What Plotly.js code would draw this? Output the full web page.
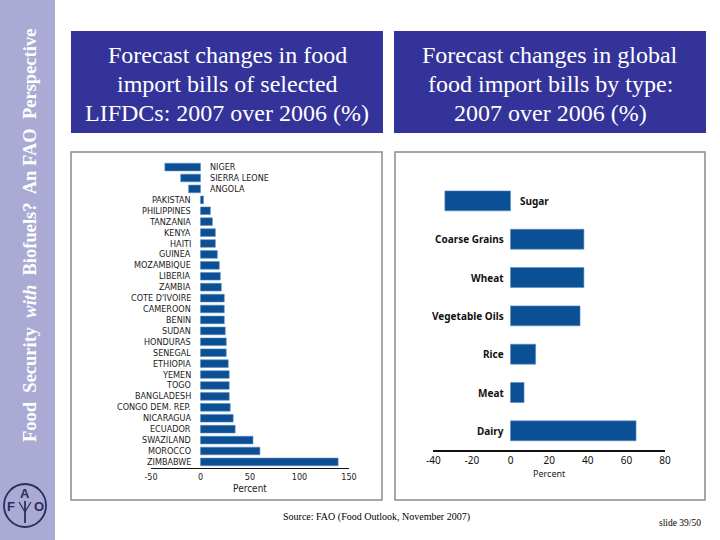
<!DOCTYPE html>
<html>
<head>
<meta charset="utf-8">
<script src="https://cdn.plot.ly/plotly-3.0.1.min.js"></script>
<style>
html,body{margin:0;padding:0;background:#fff;}
#chart{width:720px;height:540px;}
</style>
</head>
<body>
<div id="chart"></div>
<script>
// ---- Data ----
const countries = ["NIGER","SIERRA LEONE","ANGOLA","PAKISTAN","PHILIPPINES","TANZANIA","KENYA","HAITI","GUINEA","MOZAMBIQUE","LIBERIA","ZAMBIA","COTE D'IVOIRE","CAMEROON","BENIN","SUDAN","HONDURAS","SENEGAL","ETHIOPIA","YEMEN","TOGO","BANGLADESH","CONGO DEM. REP.","NICARAGUA","ECUADOR","SWAZILAND","MOROCCO","ZIMBABWE"];
const countryChange = [-36,-20,-12,3,10,12,15,15,17,19,20,21,24,24,24,25,26,26,28,29,29,29,30,33,35,53,60,139];

const foodTypes = ["Sugar","Coarse Grains","Wheat","Vegetable Oils","Rice","Meat","Dairy"];
const typeChange = [-34,38,38,36,13,7,65];

const leftTicks = [-50,0,50,100,150];
const rightTicks = [-40,-20,0,20,40,60,80];

const leftTitleLines = ["Forecast changes in food","import bills of selected","LIFDCs: 2007 over 2006 (%)"];
const rightTitleLines = ["Forecast changes in global","food import bills by type:","2007 over 2006 (%)"];
const sideText = "<b>Food&nbsp; Security&nbsp; <i>with</i>&nbsp; Biofuels?&nbsp; An&nbsp;FAO&nbsp; Perspective</b>";
const sourceText = "Source: FAO (Food Outlook, November 2007)";
const slideText = "slide 39/50";

// ---- helpers ----
const W = 720, H = 540;
const px = v => v / W;
const py = v => 1 - v / H;

const barColor = "#0b5095";
const narrow = "Liberation Sans Narrow, DejaVu Sans Condensed, Arial Narrow, sans-serif";
const segoe = "Noto Sans, Open Sans, sans-serif";
const serif = "Liberation Serif, Times New Roman, serif";

const traces = [
  {type:"bar", orientation:"h", x: countryChange, y: countries, xaxis:"x", yaxis:"y",
   marker:{color:barColor, line:{color:"#5b8cc4", width:0.6}}, width:0.7, hoverinfo:"x+y"},
  {type:"bar", orientation:"h", x: typeChange, y: foodTypes, xaxis:"x2", yaxis:"y2",
   marker:{color:barColor, line:{color:"#5b8cc4", width:0.6}}, width:0.52, hoverinfo:"x+y"}
];

const annotations = [];
countries.forEach((c,i)=>{
  const neg = countryChange[i] < 0;
  annotations.push({xref:"x", yref:"y", x:0, y:c, text:c, showarrow:false,
    xanchor: neg ? "left" : "right", xshift: neg ? 7 : -8, yanchor:"middle",
    font:{family:narrow, size:9, color:"#1a1a1a"}});
});
foodTypes.forEach((c,i)=>{
  const neg = typeChange[i] < 0;
  annotations.push({xref:"x2", yref:"y2", x:0, y:c, text:"<b>"+c+"</b>", showarrow:false,
    xanchor: neg ? "left" : "right", xshift: neg ? 7 : -5, yanchor:"middle",
    font:{family:segoe, size:10, color:"#111"}});
});
// titles, one annotation per line
const titleY = [55, 84, 113];
leftTitleLines.forEach((t,i)=>annotations.push({xref:"paper", yref:"paper", x:px(227), y:py(titleY[i]), text:t,
  showarrow:false, xanchor:"center", yanchor:"middle", font:{family:serif, size:24, color:"#fff"}}));
rightTitleLines.forEach((t,i)=>annotations.push({xref:"paper", yref:"paper", x:px(550), y:py(titleY[i]), text:t,
  showarrow:false, xanchor:"center", yanchor:"middle", font:{family:serif, size:24, color:"#fff"}}));
// side text
annotations.push({xref:"paper", yref:"paper", x:px(30), y:py(236), text:sideText, showarrow:false,
  textangle:-90, xanchor:"center", yanchor:"middle", font:{family:serif, size:18.5, color:"#fff"}});
// source & slide
annotations.push({xref:"paper", yref:"paper", x:px(376), y:py(517), text:sourceText, showarrow:false,
  xanchor:"center", yanchor:"middle", font:{family:serif, size:10, color:"#000"}});
annotations.push({xref:"paper", yref:"paper", x:px(680), y:py(523), text:slideText, showarrow:false,
  xanchor:"center", yanchor:"middle", font:{family:serif, size:9.5, color:"#000"}});
// logo letters
const logoC = "#2d2d5c";
const logoFont = {family:"Liberation Sans, sans-serif", size:13, color:logoC};
[["F",11,506],["A",25,493],["O",39,506]].forEach(([t,x,y])=>annotations.push({xref:"paper", yref:"paper",
  x:px(x), y:py(y), text:"<b>"+t+"</b>", showarrow:false, xanchor:"center", yanchor:"middle", font:logoFont}));

const shapes = [
  // sidebar
  {type:"rect", xref:"paper", yref:"paper", x0:0, x1:px(55), y0:0, y1:1, fillcolor:"#aaaad4", line:{width:0}, layer:"below"},
  // title boxes
  {type:"rect", xref:"paper", yref:"paper", x0:px(71), x1:px(383), y0:py(133), y1:py(31), fillcolor:"#333399", line:{width:0}, layer:"below"},
  {type:"rect", xref:"paper", yref:"paper", x0:px(394), x1:px(706), y0:py(133), y1:py(31), fillcolor:"#333399", line:{width:0}, layer:"below"},
  // chart frames
  {type:"rect", xref:"paper", yref:"paper", x0:px(71), x1:px(382), y0:py(500), y1:py(152), fillcolor:"#fff", line:{color:"#8a8a8a", width:1.5}, layer:"below"},
  {type:"rect", xref:"paper", yref:"paper", x0:px(395), x1:px(705), y0:py(500), y1:py(152), fillcolor:"#fff", line:{color:"#8a8a8a", width:1.5}, layer:"below"},
  // logo
  {type:"circle", xref:"paper", yref:"paper", x0:px(4), x1:px(46), y0:py(527), y1:py(484), line:{color:logoC, width:1.8}, layer:"below"},
  {type:"line", xref:"paper", yref:"paper", x0:px(25), x1:px(25), y0:py(523), y1:py(501), line:{color:logoC, width:1.8}, layer:"below"},
  {type:"line", xref:"paper", yref:"paper", x0:px(19), x1:px(25), y0:py(502), y1:py(512), line:{color:logoC, width:1.2}, layer:"below"},
  {type:"line", xref:"paper", yref:"paper", x0:px(31), x1:px(25), y0:py(502), y1:py(512), line:{color:logoC, width:1.2}, layer:"below"}
];

const layout = {
  width:W, height:H, margin:{l:0,r:0,t:0,b:0},
  paper_bgcolor:"#fff", plot_bgcolor:"rgba(0,0,0,0)",
  showlegend:false, bargap:0.3,
  xaxis:{domain:[px(151), px(349)], range:[-50,150], anchor:"y",
    tickvals:leftTicks, ticktext:leftTicks.map(String), ticks:"", showgrid:false, zeroline:false,
    showline:true, linecolor:"#111", linewidth:1.5,
    tickfont:{family:narrow, size:9, color:"#222"},
    title:{text:"Percent", font:{family:narrow, size:10, color:"#222"}, standoff:4}},
  yaxis:{domain:[py(467.7), py(161.6)], type:"category", range:[27.53,-0.5], anchor:"x",
    showticklabels:false, ticks:"", showgrid:false, zeroline:false, showline:false},
  xaxis2:{domain:[px(433.3), px(665)], range:[-40,80], anchor:"y2",
    tickvals:rightTicks, ticktext:rightTicks.map(String), ticks:"", showgrid:false, zeroline:false,
    showline:true, linecolor:"#111", linewidth:1.5,
    tickfont:{family:segoe, size:10, color:"#111"},
    title:{text:"Percent", font:{family:segoe, size:9, color:"#222"}, standoff:5}},
  yaxis2:{domain:[py(450), py(181.7)], type:"category", range:[6.5,-0.5], anchor:"x2",
    showticklabels:false, ticks:"", showgrid:false, zeroline:false, showline:false},
  shapes:shapes, annotations:annotations
};

Plotly.newPlot("chart", traces, layout, {displayModeBar:false, staticPlot:true});
</script>
</body>
</html>
